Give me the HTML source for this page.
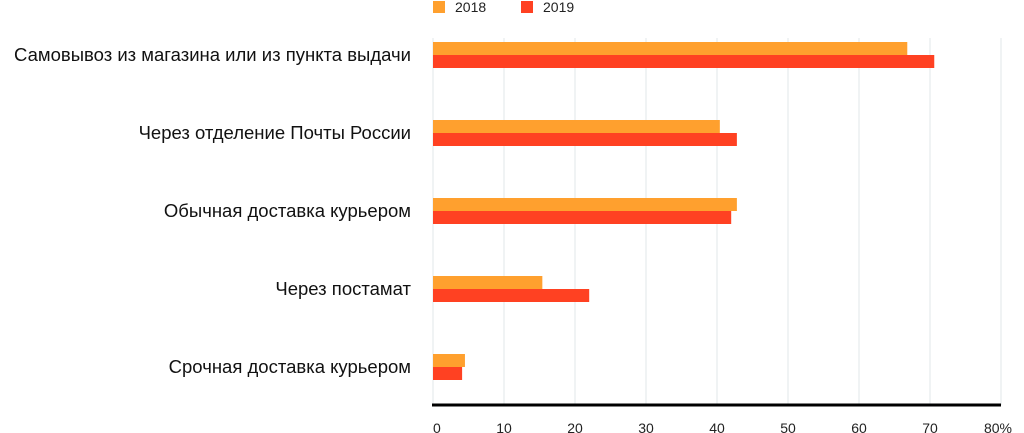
<!DOCTYPE html>
<html><head><meta charset="utf-8"><style>
html,body{margin:0;padding:0;background:#fff;width:1024px;height:433px;overflow:hidden}
svg text{font-family:"Liberation Sans","DejaVu Sans",sans-serif}
</style></head><body>
<svg id="chart" width="1024" height="433"></svg>
<script>
const categories=["Самовывоз из магазина или из пункта выдачи","Через отделение Почты России","Обычная доставка курьером","Через постамат ","Срочная доставка курьером"];
const values2018=[66.8,40.4,42.8,15.4,4.5];
const values2019=[70.6,42.8,42.0,22.0,4.1];
const ticks=[0,10,20,30,40,50,60,70,80];
const tickLabels=["0","10","20","30","40","50","60","70","80%"];
const NS="http://www.w3.org/2000/svg";
const svg=document.getElementById('chart');
const x0=433,x1=1001,vmax=80;
const X=v=>x0+(x1-x0)*v/vmax;
const yTop=38,yBase=405,band=78,firstC=55,bh=13;
const Y=i=>firstC+i*band;
function mk(t,a){const e=document.createElementNS(NS,t);for(const k in a)e.setAttribute(k,a[k]);svg.appendChild(e);return e;}
ticks.forEach((t,i)=>{
 const g=mk('line',{x1:X(t),x2:X(t),y1:yTop,y2:yBase,stroke:'#e1e7ea','stroke-width':1});
 
 
 const l=mk('text',{x:X(t)+(i===ticks.length-1?-3:0),y:433,'font-size':14,fill:'#222','text-anchor':i===0?'start':'middle'});
 l.textContent=tickLabels[i];
 
 
});
categories.forEach((c,i)=>{
 const c1=Y(i);
 const r1=mk('rect',{x:x0,y:c1-bh,width:X(values2018[i])-x0,height:bh,fill:'#ffa02e'});
 
 
 const r2=mk('rect',{x:x0,y:c1,width:X(values2019[i])-x0,height:bh,fill:'#ff4122'});
 
 
 const t=mk('text',{x:411,y:c1+6,'font-size':18.5,fill:'#111','text-anchor':'end'});
 t.textContent=c;
 
 
});
const ax=mk('line',{x1:x0-1,x2:x1,y1:yBase,y2:yBase,stroke:'#000','stroke-width':3});


const lg=[["2018","#ffa02e",433],["2019","#ff4122",521]];
lg.forEach(d=>{
 const s=mk('rect',{x:d[2],y:1,width:12,height:12,fill:d[1]});
 
 
 const t=mk('text',{x:d[2]+22,y:12,'font-size':14,fill:'#222'});
 t.textContent=d[0];
 
 
});
</script>
</body></html>
